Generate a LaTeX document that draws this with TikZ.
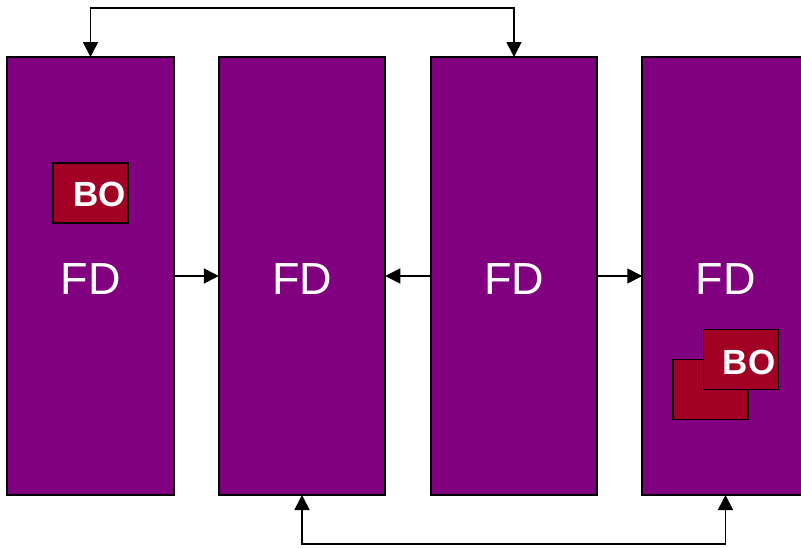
\documentclass[tikz,border=0pt]{standalone}
\usepackage{fontspec}
\setmainfont{Liberation Sans}
\usetikzlibrary{arrows.meta}
\definecolor{fdpurple}{HTML}{800080}
\definecolor{bored}{HTML}{A20025}
\tikzset{
  fdbox/.style={draw=black, line width=1.8pt, fill=fdpurple, minimum width=166.5pt,
    minimum height=438pt, inner sep=0pt, outer sep=0pt},
  fdtext/.style={text=white, font=\fontsize{45}{45}\selectfont, inner sep=0pt},
  bobox/.style={draw=black, line width=1.8pt, fill=bored, minimum width=75pt,
    minimum height=60pt, inner sep=0pt, outer sep=0pt},
  botext/.style={text=white, font=\bfseries\fontsize{35}{35}\selectfont, inner sep=0pt},
  link/.style={draw=black, line width=1.6pt, -{Triangle[length=15pt,width=15pt]}},
  biglink/.style={draw=black, line width=1.6pt, {Triangle[length=15pt,width=15pt]}-{Triangle[length=15pt,width=15pt]}},
}
\begin{document}
\begin{tikzpicture}[x=1pt,y=-1pt]
  \clip (0,0) rectangle (801,547);
  \fill[white] (0,0) rectangle (801,547);

  % four FD blocks
  \node[fdbox] (r1) at (90.5,276) {};
  \node[fdbox] (r2) at (302,276) {};
  \node[fdbox] (r3) at (514,276) {};
  \node[fdbox] (r4) at (725.5,276) {};
  \node[fdtext] (l1) at (90.5,279) {FD};
  \node[fdtext] (l2) at (302,279) {FD};
  \node[fdtext] (l3) at (514,279) {FD};
  \node[fdtext] (l4) at (725.5,279) {FD};

  % BO in the first block
  \node[bobox] (b1) at (90.5,193) {};
  \node[botext] (bt1) at (99.5,194) {BO};

  % stacked BO in the last block
  \node[bobox] (b2) at (710.5,389.5) {};
  \node[bobox] (b3) at (741,359.5) {};
  \node[botext] (bt3) at (749,362) {BO};

  % horizontal links
  \draw[link] (r1.east) -- (r2.west);
  \draw[link] (r3.west) -- (r2.east);
  \draw[link] (r3.east) -- (r4.west);

  % loops over the top and under the bottom
  \draw[biglink] (r1.north) -- ++(0,-49) -| (r3.north);
  \draw[biglink] (r2.south) -- ++(0,49) -| (r4.south);
\end{tikzpicture}
\end{document}
